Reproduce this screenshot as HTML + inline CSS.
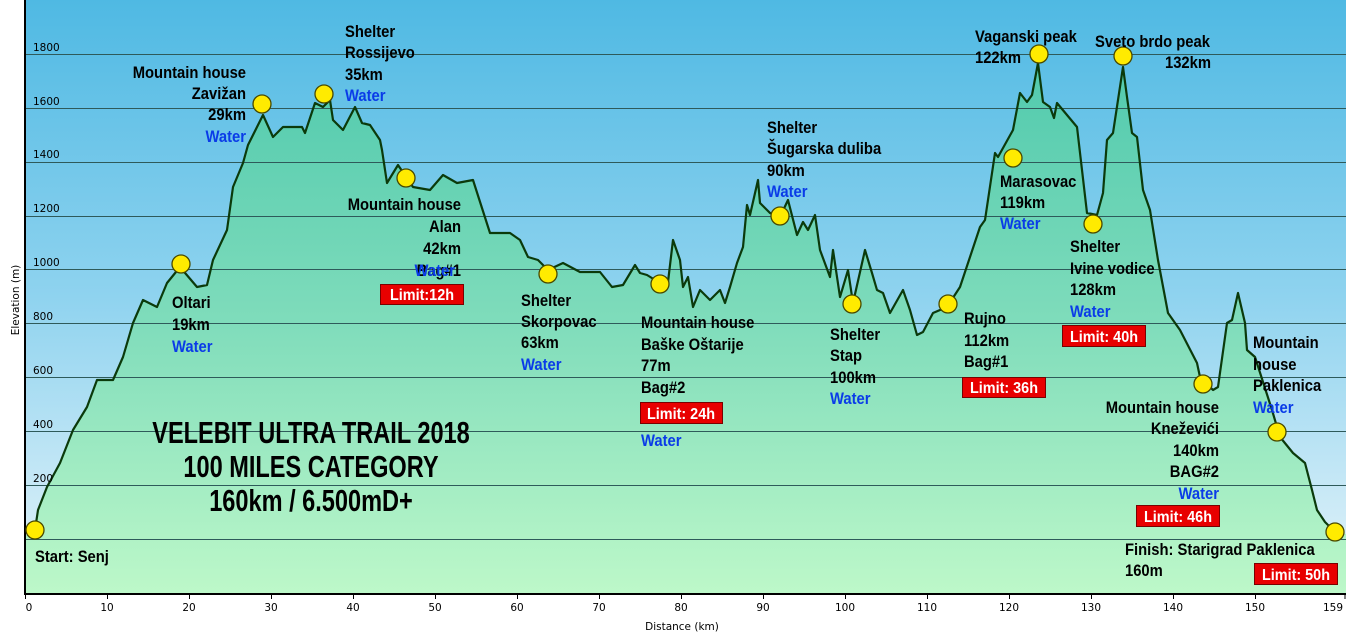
<!DOCTYPE html>
<html><head><meta charset="utf-8">
<style>
html,body{margin:0;padding:0;background:#fff;}
svg{display:block;}
.l text,.t text,.lim text{transform-box:fill-box;}
.l{font-family:"Liberation Sans Narrow","Liberation Sans",sans-serif;font-weight:bold;font-size:17px;fill:#000;}
.l text{transform-origin:0 0;transform:scaleX(.87);}
.l .e text{transform-origin:100% 0;}
.w{fill:#0a3be8;}
.t{font-family:"Liberation Sans",sans-serif;font-weight:bold;font-size:31px;fill:#000;}
.t text{transform-origin:50% 0;transform:scaleX(.76);}
.ax{font-family:"DejaVu Sans",sans-serif;font-size:10.5px;fill:#000;}
.lim{font-family:"Liberation Sans",sans-serif;font-weight:bold;font-size:16px;fill:#fff;}
.lim text{transform-origin:50% 0;transform:scaleX(.9);}
</style></head><body>
<svg width="1346" height="636" viewBox="0 0 1346 636" xmlns="http://www.w3.org/2000/svg">
<defs>
<linearGradient id="sky" x1="0" y1="0" x2="0" y2="1">
<stop offset="0" stop-color="#4fb9e3"/><stop offset="0.5" stop-color="#8fd3ef"/><stop offset="1" stop-color="#e6f4fa"/>
</linearGradient>
<linearGradient id="fill" gradientUnits="userSpaceOnUse" x1="0" y1="50" x2="0" y2="594">
<stop offset="0" stop-color="#4fc9ad"/><stop offset="0.5" stop-color="#7fdcbb"/><stop offset="1" stop-color="#bdf8c9"/>
</linearGradient>
</defs>
<rect x="25" y="0" width="1321" height="594" fill="url(#sky)"/>
<polygon fill="url(#fill)" points="25,594 25,535 28,535 35,530 38,510 47,487 60,463 73,430 87,407 97,380 113,380 123,357 133,323 143,300 157,307 167,283 180,267 197,287 207,285 213,260 227,230 233,187 243,163 248,145 257,127 263,115 273,137 283,127 302,127 305,133 315,103 323,107 330,100 333,120 343,130 355,107 362,123 370,125 380,140 382,150 387,183 398,165 413,187 430,190 443,175 457,183 473,180 490,233 510,233 520,240 528,257 538,260 548,270 563,263 580,272 600,272 612,287 623,285 635,265 640,273 647,275 660,283 668,282 673,240 680,260 683,287 688,277 693,307 700,290 710,300 720,290 725,303 730,287 737,263 743,247 747,205 750,215 758,180 760,203 770,213 780,217 788,200 797,235 803,222 808,230 815,215 820,250 830,277 833,250 840,297 848,270 853,303 865,250 872,273 877,290 883,293 890,313 903,290 910,310 917,335 923,332 933,313 947,307 960,287 980,227 985,220 995,153 998,157 1013,130 1020,93 1027,102 1032,95 1038,63 1043,102 1050,107 1054,118 1057,103 1077,127 1082,170 1087,213 1097,215 1103,193 1107,140 1113,133 1123,67 1127,97 1132,133 1137,137 1143,190 1150,210 1158,260 1168,313 1180,330 1197,363 1200,377 1213,390 1218,387 1227,323 1232,320 1238,293 1245,323 1247,350 1255,357 1272,410 1280,437 1293,453 1305,463 1312,490 1317,510 1325,522 1335,532 1346,534 1346,594"/>
<g stroke="#2e5a5a" stroke-width="1">
<line x1="25" y1="54.5" x2="1346" y2="54.5"/><line x1="25" y1="108.5" x2="1346" y2="108.5"/><line x1="25" y1="162.5" x2="1346" y2="162.5"/><line x1="25" y1="216.5" x2="1346" y2="216.5"/><line x1="25" y1="269.5" x2="1346" y2="269.5"/><line x1="25" y1="323.5" x2="1346" y2="323.5"/><line x1="25" y1="377.5" x2="1346" y2="377.5"/><line x1="25" y1="431.5" x2="1346" y2="431.5"/><line x1="25" y1="485.5" x2="1346" y2="485.5"/><line x1="25" y1="539.5" x2="1346" y2="539.5"/>
</g>
<polyline fill="none" stroke="#0b3a0b" stroke-width="2.2" stroke-linejoin="round" points="28,535 35,530 38,510 47,487 60,463 73,430 87,407 97,380 113,380 123,357 133,323 143,300 157,307 167,283 180,267 197,287 207,285 213,260 227,230 233,187 243,163 248,145 257,127 263,115 273,137 283,127 302,127 305,133 315,103 323,107 330,100 333,120 343,130 355,107 362,123 370,125 380,140 382,150 387,183 398,165 413,187 430,190 443,175 457,183 473,180 490,233 510,233 520,240 528,257 538,260 548,270 563,263 580,272 600,272 612,287 623,285 635,265 640,273 647,275 660,283 668,282 673,240 680,260 683,287 688,277 693,307 700,290 710,300 720,290 725,303 730,287 737,263 743,247 747,205 750,215 758,180 760,203 770,213 780,217 788,200 797,235 803,222 808,230 815,215 820,250 830,277 833,250 840,297 848,270 853,303 865,250 872,273 877,290 883,293 890,313 903,290 910,310 917,335 923,332 933,313 947,307 960,287 980,227 985,220 995,153 998,157 1013,130 1020,93 1027,102 1032,95 1038,63 1043,102 1050,107 1054,118 1057,103 1077,127 1082,170 1087,213 1097,215 1103,193 1107,140 1113,133 1123,67 1127,97 1132,133 1137,137 1143,190 1150,210 1158,260 1168,313 1180,330 1197,363 1200,377 1213,390 1218,387 1227,323 1232,320 1238,293 1245,323 1247,350 1255,357 1272,410 1280,437 1293,453 1305,463 1312,490 1317,510 1325,522 1335,532"/>
<line x1="25" y1="0" x2="25" y2="595" stroke="#000" stroke-width="2"/>
<line x1="24" y1="594" x2="1346" y2="594" stroke="#000" stroke-width="2"/>
<g stroke="#000" stroke-width="1">
<line x1="25.5" y1="594" x2="25.5" y2="599"/><line x1="107.5" y1="594" x2="107.5" y2="599"/><line x1="189.5" y1="594" x2="189.5" y2="599"/><line x1="271.5" y1="594" x2="271.5" y2="599"/><line x1="353.5" y1="594" x2="353.5" y2="599"/><line x1="435.5" y1="594" x2="435.5" y2="599"/><line x1="517.5" y1="594" x2="517.5" y2="599"/><line x1="599.5" y1="594" x2="599.5" y2="599"/><line x1="681.5" y1="594" x2="681.5" y2="599"/><line x1="763.5" y1="594" x2="763.5" y2="599"/><line x1="845.5" y1="594" x2="845.5" y2="599"/><line x1="927.5" y1="594" x2="927.5" y2="599"/><line x1="1009.5" y1="594" x2="1009.5" y2="599"/><line x1="1091.5" y1="594" x2="1091.5" y2="599"/><line x1="1173.5" y1="594" x2="1173.5" y2="599"/><line x1="1255.5" y1="594" x2="1255.5" y2="599"/><line x1="1345" y1="594" x2="1345" y2="599"/>
</g>
<g class="ax" text-anchor="middle">
<text x="29" y="611">0</text><text x="107" y="611">10</text><text x="189" y="611">20</text><text x="271" y="611">30</text><text x="353" y="611">40</text><text x="435" y="611">50</text><text x="517" y="611">60</text><text x="599" y="611">70</text><text x="681" y="611">80</text><text x="763" y="611">90</text><text x="845" y="611">100</text><text x="927" y="611">110</text><text x="1009" y="611">120</text><text x="1091" y="611">130</text><text x="1173" y="611">140</text><text x="1255" y="611">150</text><text x="1333" y="611">159</text>
<text x="682" y="630">Distance  (km)</text>
<text transform="translate(19,300) rotate(-90)">Elevation (m)</text>
</g>
<g class="ax">
<text x="33" y="51">1800</text><text x="33" y="105">1600</text><text x="33" y="158">1400</text><text x="33" y="212">1200</text><text x="33" y="266">1000</text><text x="33" y="320">800</text><text x="33" y="374">600</text><text x="33" y="428">400</text><text x="33" y="482">200</text>
</g>
<g fill="#ffeb00" stroke="#4a4a00" stroke-width="1.3">
<circle cx="35" cy="530" r="9"/><circle cx="181" cy="264" r="9"/><circle cx="262" cy="104" r="9"/><circle cx="324" cy="94" r="9"/><circle cx="406" cy="178" r="9"/><circle cx="548" cy="274" r="9"/><circle cx="660" cy="284" r="9"/><circle cx="780" cy="216" r="9"/><circle cx="852" cy="304" r="9"/><circle cx="948" cy="304" r="9"/><circle cx="1013" cy="158" r="9"/><circle cx="1039" cy="54" r="9"/><circle cx="1093" cy="224" r="9"/><circle cx="1123" cy="56" r="9"/><circle cx="1203" cy="384" r="9"/><circle cx="1277" cy="432" r="9"/><circle cx="1335" cy="532" r="9"/>
</g>
<g fill="#e80000" stroke="#7a0000" stroke-width="1">
<rect x="380.5" y="284.5" width="83" height="20"/><rect x="640.5" y="402.5" width="82" height="21"/><rect x="962.5" y="377.5" width="83" height="20"/><rect x="1062.5" y="325.5" width="83" height="21"/><rect x="1136.5" y="505.5" width="83" height="21"/><rect x="1254.5" y="563.5" width="83" height="21"/>
</g>
<g class="lim" text-anchor="middle">
<text x="422" y="300">Limit:12h</text><text x="681" y="419">Limit: 24h</text><text x="1004" y="393">Limit: 36h</text><text x="1104" y="342">Limit: 40h</text><text x="1178" y="522">Limit: 46h</text><text x="1296" y="580">Limit: 50h</text>
</g>
<g class="l">
<g class="e" text-anchor="end">
<text x="246" y="78">Mountain house</text><text x="246" y="99">Zavižan</text><text x="246" y="120">29km</text><text x="246" y="142" class="w">Water</text>
<text x="461" y="210">Mountain house</text><text x="461" y="232">Alan</text><text x="461" y="254">42km</text><text x="461" y="276">Bag#1</text><text x="455" y="276" class="w">Water</text>
<text x="1219" y="413">Mountain house</text><text x="1219" y="434">Kneževići</text><text x="1219" y="456">140km</text><text x="1219" y="477">BAG#2</text><text x="1219" y="499" class="w">Water</text>
<text x="1211" y="68">132km</text>
</g>
<text x="345" y="37">Shelter</text><text x="345" y="58">Rossijevo</text><text x="345" y="80">35km</text><text x="345" y="101" class="w">Water</text>
<text x="172" y="308">Oltari</text><text x="172" y="330">19km</text><text x="172" y="352" class="w">Water</text>
<text x="521" y="306">Shelter</text><text x="521" y="327">Skorpovac</text><text x="521" y="348">63km</text><text x="521" y="370" class="w">Water</text>
<text x="641" y="328">Mountain house</text><text x="641" y="350">Baške Oštarije</text><text x="641" y="371">77m</text><text x="641" y="393">Bag#2</text><text x="641" y="446" class="w">Water</text>
<text x="767" y="133">Shelter</text><text x="767" y="154">Šugarska duliba</text><text x="767" y="176">90km</text><text x="767" y="197" class="w">Water</text>
<text x="830" y="340">Shelter</text><text x="830" y="361">Stap</text><text x="830" y="383">100km</text><text x="830" y="404" class="w">Water</text>
<text x="964" y="324">Rujno</text><text x="964" y="346">112km</text><text x="964" y="367">Bag#1</text>
<text x="1000" y="187">Marasovac</text><text x="1000" y="208">119km</text><text x="1000" y="229" class="w">Water</text>
<text x="975" y="42">Vaganski peak</text><text x="975" y="63">122km</text>
<text x="1095" y="47">Sveto brdo peak</text>
<text x="1070" y="252">Shelter</text><text x="1070" y="274">Ivine vodice</text><text x="1070" y="295">128km</text><text x="1070" y="317" class="w">Water</text>
<text x="1253" y="348">Mountain</text><text x="1253" y="370">house</text><text x="1253" y="391">Paklenica</text><text x="1253" y="413" class="w">Water</text>
<text x="35" y="562">Start: Senj</text>
<text x="1125" y="555">Finish: Starigrad Paklenica</text><text x="1125" y="576">160m</text>
</g>
<g class="t" text-anchor="middle">
<text x="311" y="443">VELEBIT ULTRA TRAIL 2018</text>
<text x="311" y="477">100 MILES CATEGORY</text>
<text x="311" y="511">160km / 6.500mD+</text>
</g>
</svg>
</body></html>
